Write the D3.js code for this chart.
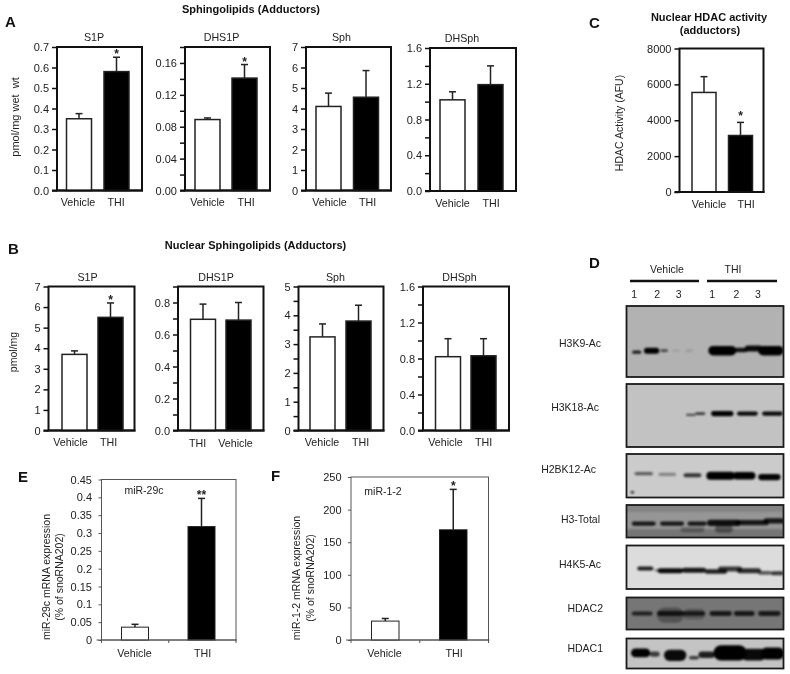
<!DOCTYPE html>
<html>
<head>
<meta charset="utf-8">
<script src="https://cdn.jsdelivr.net/npm/d3@7"></script>
<style>
body { margin: 0; background: #fff; }
svg { filter: blur(0.3px); }
text { font-family: "Liberation Sans", Arial, sans-serif; fill: #222; }
.letter { font-size: 15px; font-weight: bold; fill: #111; }
.heading { font-size: 11px; font-weight: bold; fill: #111; }
</style>
</head>
<body>
<svg id="fig" width="790" height="674"></svg>
<script>
const categories = ["Vehicle", "THI"];
const categoriesSwapped = ["THI", "Vehicle"];

// mean and top of error bar
const aS1p = [0.35, 0.58];
const aS1pTop = [0.375, 0.65];
const aDhs1p = [0.089, 0.141];
const aDhs1pTop = [0.091, 0.158];
const aSph = [4.1, 4.55];
const aSphTop = [4.75, 5.85];
const aDhsph = [1.02, 1.19];
const aDhsphTop = [1.11, 1.4];

const bS1p = [3.7, 5.5];
const bS1pTop = [3.87, 6.2];
const bDhs1p = [0.695, 0.69];
const bDhs1pTop = [0.79, 0.8];
const bSph = [3.25, 3.8];
const bSphTop = [3.7, 4.35];
const bDhsph = [0.82, 0.83];
const bDhsphTop = [1.02, 1.02];

const cHdac = [5550, 3150];
const cHdacTop = [6430, 3880];

const eMir = [0.036, 0.318];
const eMirTop = [0.044, 0.397];
const fMir = [29, 169];
const fMirTop = [33, 231];

// ticks
const ticksTo7 = [0, 1, 2, 3, 4, 5, 6, 7];
const ticksS1pA = [0, 0.1, 0.2, 0.3, 0.4, 0.5, 0.6, 0.7];
const ticksDhs1pA = [0, 0.02, 0.04, 0.06, 0.08, 0.1, 0.12, 0.14, 0.16, 0.18];
const ticksDhs1pB = [0, 0.1, 0.2, 0.3, 0.4, 0.5, 0.6, 0.7, 0.8, 0.9];
const ticksTo16 = [0, 0.2, 0.4, 0.6, 0.8, 1, 1.2, 1.4, 1.6];
const ticksSphB = [0, 0.5, 1, 1.5, 2, 2.5, 3, 3.5, 4, 4.5, 5];
const ticksHdac = [0, 2000, 4000, 6000, 8000];
const ticksMir29 = [0, 0.05, 0.1, 0.15, 0.2, 0.25, 0.3, 0.35, 0.4, 0.45];
const ticksMir1 = [0, 50, 100, 150, 200, 250];

// blot bands: [lane position %, gel depth %, band length %, band height %, signal]
const h3k9Bands = [[6.5, 65, 4.5, 3, 0.85], [16, 63, 8.5, 7, 1], [24, 63, 3.5, 2.5, 0.6], [31.5, 63, 3, 1.5, 0.12], [40, 63, 3, 2, 0.15], [61, 63, 16.5, 12, 1], [73, 62, 7, 5, 0.9], [81, 60, 10, 7, 0.95], [92, 63, 15, 12, 1]];
const h3k18Bands = [[41, 49, 5, 2, 0.6], [47, 47, 5, 2.5, 0.7], [61, 47, 13, 6.5, 1], [77, 47, 12, 5, 0.95], [93, 47, 12, 5, 0.95]];
const h2bk12Bands = [[11, 45, 10.5, 5, 0.55], [26, 47, 10, 5, 0.35], [42, 49, 10, 7, 0.75], [60, 50, 17, 16, 1], [75, 50, 13, 15, 1], [91, 53, 13, 12, 0.98], [3.8, 88, 1, 3, 0.9]];
const h3TotalBands = [[50, 88, 100, 26, 0.22], [50, 10, 100, 20, 0.12], [11, 57, 14, 10, 0.85], [29, 57, 14, 10, 0.85], [45, 57, 11, 10, 0.85], [62, 55, 20, 16, 0.9], [80, 54, 20, 13, 0.85], [94, 49, 12, 13, 0.85], [42, 76, 14, 12, 0.3], [62, 74, 10, 20, 0.4]];
const h4k5Bands = [[12, 53, 9, 7, 0.85], [20, 57, 3, 3, 0.5], [28, 58, 15, 9, 0.95], [43, 57, 14, 9, 0.9], [57, 60, 13, 8, 0.85], [66, 54, 14, 9, 0.75], [78, 58, 14, 9, 0.8], [88, 63, 7, 6, 0.6], [96, 64, 7, 7, 0.75]];
const hdac2Bands = [[28, 55, 16, 45, 0.3], [43, 52, 13, 30, 0.25], [10, 50, 12, 10, 0.75], [28, 50, 16, 12, 0.8], [43, 50, 13, 11, 0.75], [60, 50, 13, 12, 0.8], [75, 50, 12, 12, 0.8], [91, 50, 13, 12, 0.8]];
const hdac1Bands = [[9, 48, 11, 26, 1], [18, 52, 5, 14, 0.7], [31, 56, 13, 34, 0.95], [43, 64, 5, 8, 0.7], [51, 54, 9, 18, 0.85], [66, 48, 20, 48, 1], [81, 54, 15, 36, 0.95], [93, 50, 14, 36, 1]];

const blotNames = ["H3K9-Ac", "H3K18-Ac", "H2BK12-Ac", "H3-Total", "H4K5-Ac", "HDAC2", "HDAC1"];
const blotBands = [h3k9Bands, h3k18Bands, h2bk12Bands, h3TotalBands, h4k5Bands, hdac2Bands, hdac1Bands];
const laneNumbers = ["1", "2", "3", "1", "2", "3"];
const lanePositions = [4.9, 19.5, 33.2, 54.5, 70, 83.7];

const svg = d3.select("#fig");

// layout of the bar panels: box in px, side margins inside the box
const panels = [
    { x0: 57, x1: 142, y0: 47, y1: 190.5, max: 0.7, ticks: ticksS1pA, labelled: ticksS1pA, fmt: ".1f", vals: aS1p, tops: aS1pTop, cats: categories, title: "S1P", titleX: 94, catX: [78, 116], stars: ["", "*"], ml: 9.5, mr: 13 },
    { x0: 185, x1: 270, y0: 47, y1: 190.5, max: 0.18, ticks: ticksDhs1pA, labelled: [0, 0.04, 0.08, 0.12, 0.16], fmt: ".2f", vals: aDhs1p, tops: aDhs1pTop, cats: categories, title: "DHS1P", titleX: 221.5, catX: [207.5, 246], stars: ["", "*"], ml: 10, mr: 13 },
    { x0: 306, x1: 391, y0: 47, y1: 190.5, max: 7, ticks: ticksTo7, labelled: ticksTo7, fmt: "d", vals: aSph, tops: aSphTop, cats: categories, title: "Sph", titleX: 341.5, catX: [329.5, 367.5], stars: ["", ""], ml: 10, mr: 12.5 },
    { x0: 430, x1: 516, y0: 48, y1: 191, max: 1.6, ticks: ticksTo16, labelled: [0, 0.4, 0.8, 1.2, 1.6], fmt: ".1f", vals: aDhsph, tops: aDhsphTop, cats: categories, title: "DHSph", titleX: 462, catX: [452.5, 491], stars: ["", ""], ml: 10, mr: 13 },
    { x0: 679.5, x1: 763.5, y0: 48.5, y1: 192, max: 8000, ticks: ticksHdac, labelled: ticksHdac, fmt: "d", vals: cHdac, tops: cHdacTop, cats: categories, catX: [709, 746], stars: ["", "*"], starLift: 3, ml: 12.5, mr: 11, barW: 24 },
    { x0: 48.5, x1: 134.5, y0: 286.5, y1: 430.5, max: 7, ticks: ticksTo7, labelled: ticksTo7, fmt: "d", vals: bS1p, tops: bS1pTop, cats: categories, title: "S1P", titleX: 87.5, catX: [70.5, 108.5], stars: ["", "*"], ml: 13.5, mr: 11.5 },
    { x0: 178, x1: 263.5, y0: 286.5, y1: 430.5, max: 0.9, ticks: ticksDhs1pB, labelled: [0, 0.2, 0.4, 0.6, 0.8], fmt: ".1f", vals: bDhs1p, tops: bDhs1pTop, cats: categoriesSwapped, title: "DHS1P", titleX: 216, catX: [197.5, 235.5], catDrop: 1, stars: ["", ""], ml: 12.5, mr: 12.5, barW: 25 },
    { x0: 298.5, x1: 383.5, y0: 286.5, y1: 430.5, max: 5, ticks: ticksSphB, labelled: [0, 1, 2, 3, 4, 5], fmt: "d", vals: bSph, tops: bSphTop, cats: categories, title: "Sph", titleX: 335.5, catX: [322, 360.5], stars: ["", ""], ml: 11.5, mr: 12.5 },
    { x0: 423, x1: 509, y0: 286.5, y1: 430.5, max: 1.6, ticks: ticksTo16, labelled: [0, 0.4, 0.8, 1.2, 1.6], fmt: ".1f", vals: bDhsph, tops: bDhsphTop, cats: categories, title: "DHSph", titleX: 459.5, catX: [445.5, 483.5], stars: ["", ""], ml: 12.5, mr: 13 },
    { x0: 101.5, x1: 236, y0: 479.5, y1: 640, max: 0.45, ticks: ticksMir29, labelled: ticksMir29, fmt: "", vals: eMir, tops: eMirTop, cats: categories, catX: [134.5, 202.5], stars: ["", "**"], ml: 20, mr: 21, thin: true, barW: 27 },
    { x0: 351, x1: 488.5, y0: 477, y1: 640, max: 250, ticks: ticksMir1, labelled: ticksMir1, fmt: "d", vals: fMir, tops: fMirTop, cats: categories, catX: [384.5, 454], stars: ["", "*"], ml: 20.5, mr: 21.5, thin: true, barW: 27.5 }
];

const drawPanel = p => {
    const g = svg.append("g");
    const y = d3.scaleLinear().domain([0, p.max]).range([p.y1, p.y0]);
    const barW = p.barW || 25;
    const x = d3.scalePoint().domain(p.cats).range([p.x0 + p.ml + barW / 2, p.x1 - p.mr - barW / 2]);
    const labelFmt = p.fmt ? d3.format(p.fmt) : d => String(+d.toFixed(2));
    const labelledKeys = p.labelled.map(d => +d.toFixed(3));

    const axis = d3.axisLeft(y)
        .tickValues(p.ticks)
        .tickSize(p.thin ? 3 : 5)
        .tickPadding(p.thin ? 6.5 : 3)
        .tickFormat(d => labelledKeys.includes(+d.toFixed(3)) ? labelFmt(d) : "");

    const axisG = g.append("g")
        .attr("transform", `translate(${p.x0},0)`)
        .call(axis);
    axisG.selectAll(".domain").remove();
    axisG.selectAll("line").attr("stroke", p.thin ? "#555" : "#111").attr("stroke-width", p.thin ? 1 : 1.5);
    axisG.selectAll("text").attr("font-size", 11).style("font-family", '"Liberation Sans", Arial, sans-serif').style("fill", "#222");

    g.append("rect")
        .attr("x", p.x0).attr("y", p.y0)
        .attr("width", p.x1 - p.x0).attr("height", p.y1 - p.y0)
        .attr("fill", "none")
        .attr("stroke", p.thin ? "#555" : "#111")
        .attr("stroke-width", p.thin ? 1 : 2);

    const items = p.cats.map((c, i) => ({ c, v: p.vals[i], top: p.tops[i], star: p.stars[i], i }));

    // error bars go behind the bars
    g.selectAll(".err").data(items).join("line")
        .attr("class", "err")
        .attr("x1", d => x(d.c)).attr("x2", d => x(d.c))
        .attr("y1", d => y(d.v)).attr("y2", d => y(d.top))
        .attr("stroke", "#222").attr("stroke-width", 1.5);
    g.selectAll(".cap").data(items).join("line")
        .attr("class", "cap")
        .attr("x1", d => x(d.c) - 3.5).attr("x2", d => x(d.c) + 3.5)
        .attr("y1", d => y(d.top)).attr("y2", d => y(d.top))
        .attr("stroke", "#222").attr("stroke-width", 1.5);

    g.selectAll(".bar").data(items).join("rect")
        .attr("class", "bar")
        .attr("x", d => x(d.c) - barW / 2)
        .attr("width", barW)
        .attr("y", d => y(d.v))
        .attr("height", d => y(0) - y(d.v))
        .attr("fill", d => d.i === 1 ? "#000" : "#fff")
        .attr("stroke", "#222")
        .attr("stroke-width", p.thin ? 1 : 1.5);

    // bottom frame line over the bars
    g.append("line")
        .attr("x1", p.x0 - 5).attr("x2", p.x1 + 1)
        .attr("y1", p.y1).attr("y2", p.y1)
        .attr("stroke", p.thin ? "#555" : "#111")
        .attr("stroke-width", p.thin ? 1 : 2);

    if (p.thin) {
        // category ticks under the e / f panels
        [p.x0, (p.x0 + p.x1) / 2, p.x1].forEach(tx => {
            g.append("line").attr("x1", tx).attr("x2", tx).attr("y1", p.y1).attr("y2", p.y1 + 3).attr("stroke", "#555");
        });
    }

    g.selectAll(".star").data(items.filter(d => d.star)).join("text")
        .attr("class", "star")
        .attr("x", d => x(d.c))
        .attr("y", d => y(d.top) - (p.starLift || 0) + 1)
        .attr("text-anchor", "middle")
        .attr("font-size", 12)
        .attr("font-weight", "bold")
        .text(d => d.star);

    g.selectAll(".cat").data(items).join("text")
        .attr("class", "cat")
        .attr("x", d => p.catX[d.i])
        .attr("y", p.y1 + (p.thin ? 17 : 15.5) + (p.catDrop || 0))
        .attr("text-anchor", "middle")
        .attr("font-size", 10.7)
        .text(d => d.c);

    if (p.title) {
        g.append("text")
            .attr("x", p.titleX)
            .attr("y", p.y0 - 6)
            .attr("text-anchor", "middle")
            .attr("font-size", 10.7)
            .text(p.title);
    }
};

panels.forEach(drawPanel);

const addText = (txt, x, y, cls, size, anchor) => {
    const t = svg.append("text").attr("x", x).attr("y", y).text(txt);
    if (cls) t.attr("class", cls);
    if (size) t.attr("font-size", size);
    t.attr("text-anchor", anchor || "start");
    return t;
};

const addYLabel = (txt, x, y, size) => {
    svg.append("text")
        .attr("transform", `translate(${x},${y}) rotate(-90)`)
        .attr("text-anchor", "middle")
        .attr("font-size", size || 10.5)
        .text(txt);
};

[["A", 5, 27], ["B", 8, 254], ["C", 589, 28], ["D", 589, 268], ["E", 18, 482], ["F", 271, 481]]
    .forEach(d => addText(d[0], d[1], d[2], "letter"));

addText("Sphingolipids (Adductors)", 251, 13, "heading", null, "middle");
addText("Nuclear Sphingolipids (Adductors)", 255.5, 249, "heading", null, "middle");
addText("Nuclear HDAC activity", 709, 21, "heading", null, "middle");
addText("(adductors)", 710, 34, "heading", null, "middle");

addYLabel("pmol/mg wet\u00a0\u00a0wt", 19, 117, 11);
addYLabel("pmol/mg", 17, 352);
addYLabel("HDAC Activity (AFU)", 623, 123);
addYLabel("miR-29c mRNA expression", 50, 577);
addYLabel("(% of snoRNA202)", 63, 577);
addYLabel("miR-1-2 mRNA expression", 300, 578);
addYLabel("(% of snoRNA202)", 314, 578);
addText("miR-29c", 144, 494, null, 10.5, "middle");
addText("miR-1-2", 383, 495, null, 10.5, "middle");

// western blots
const gelX = d3.scaleLinear().domain([0, 100]).range([626.5, 783.5]);

const defs = svg.append("defs");
defs.append("filter").attr("id", "soft").attr("x", "-10%").attr("y", "-30%").attr("width", "120%").attr("height", "160%")
    .append("feGaussianBlur").attr("stdDeviation", 0.9);

const blotLayout = [
    { y0: 306, y1: 377, bg: "#b2b2b2", labelX: 601, labelY: 347 },
    { y0: 384, y1: 447, bg: "#c2c2c2", labelX: 599, labelY: 411 },
    { y0: 454, y1: 497.5, bg: "#cbcbcb", labelX: 596, labelY: 473 },
    { y0: 505, y1: 537.5, bg: "#969696", labelX: 600, labelY: 523 },
    { y0: 545.5, y1: 589, bg: "#dcdcdc", labelX: 601, labelY: 568 },
    { y0: 597.5, y1: 629.5, bg: "#767676", labelX: 603, labelY: 612 },
    { y0: 638.5, y1: 668.5, bg: "#c4c4c4", labelX: 603, labelY: 652 }
];

blotLayout.forEach((b, i) => {
    const gelY = d3.scaleLinear().domain([0, 100]).range([b.y0, b.y1]);
    const clipId = "gel" + i;
    defs.append("clipPath").attr("id", clipId).append("rect")
        .attr("x", gelX(0)).attr("y", b.y0)
        .attr("width", gelX(100) - gelX(0)).attr("height", b.y1 - b.y0);

    const g = svg.append("g");
    g.append("rect")
        .attr("x", gelX(0)).attr("y", b.y0)
        .attr("width", gelX(100) - gelX(0)).attr("height", b.y1 - b.y0)
        .attr("fill", b.bg);

    const bandH = d => gelY(d[3]) - gelY(0) + 1;
    g.append("g").attr("clip-path", `url(#${clipId})`)
        .append("g").attr("filter", "url(#soft)")
        .selectAll("rect").data(blotBands[i]).join("rect")
        .attr("x", d => gelX(d[0] - d[2] / 2) - 1)
        .attr("width", d => gelX(d[2]) - gelX(0) + 2)
        .attr("y", d => gelY(d[1]) - bandH(d) / 2)
        .attr("height", bandH)
        .attr("rx", d => bandH(d) / 2)
        .attr("fill", "#000")
        .attr("opacity", d => d[4]);

    g.append("rect")
        .attr("x", gelX(0)).attr("y", b.y0)
        .attr("width", gelX(100) - gelX(0)).attr("height", b.y1 - b.y0)
        .attr("fill", "none").attr("stroke", "#1a1a1a").attr("stroke-width", 1.8);

    addText(blotNames[i], b.labelX, b.labelY, null, 10.5, "end");
});

// blot header
addText("Vehicle", 667, 273, null, 10.5, "middle");
addText("THI", 733, 273, null, 10.5, "middle");
[[630, 699], [707, 777]].forEach(d => {
    svg.append("line").attr("x1", d[0]).attr("x2", d[1]).attr("y1", 281).attr("y2", 281)
        .attr("stroke", "#111").attr("stroke-width", 2.6);
});
svg.selectAll(".lane").data(laneNumbers).join("text")
    .attr("class", "lane")
    .attr("x", (d, i) => gelX(lanePositions[i]))
    .attr("y", 298)
    .attr("text-anchor", "middle")
    .attr("font-size", 10.5)
    .text(d => d);
</script>
</body>
</html>
